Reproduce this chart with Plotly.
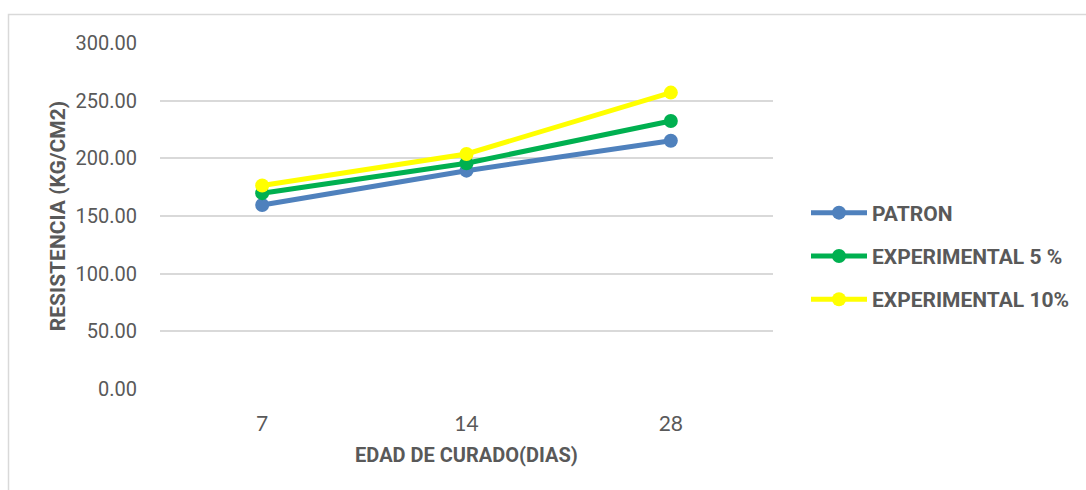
import plotly.graph_objects as go

categories = ["7", "14", "28"]
patron = [159.5, 189.3, 215.3]
exp5 = [169.8, 195.8, 232.4]
exp10 = [176.5, 203.8, 257.0]
series_names = ["PATRON", "EXPERIMENTAL 5 %", "EXPERIMENTAL 10%"]
y_ticks = [0, 50, 100, 150, 200, 250, 300]

colors = ["#4F81BD", "#00B050", "#FFFF00"]
narrow = "Roboto, Arial"

fig = go.Figure()
for i, (name, vals, c) in enumerate(zip(series_names, [patron, exp5, exp10], colors)):
    fig.add_trace(go.Scatter(
        x=categories, y=vals, name=name, mode="lines+markers",
        legendgroup="g%d" % i,
        line=dict(color=c, width=5), marker=dict(color=c, size=14),
    ))

W, H = 1086, 490
L, R, T, B = 160, 313, 43, 101
pw, ph = W - L - R, H - T - B

fig.update_layout(
    width=W, height=H,
    margin=dict(l=L, r=R, t=T, b=B, autoexpand=False),
    paper_bgcolor="white", plot_bgcolor="white",
    showlegend=True,
    legend=dict(
        x=(806 - L) / pw, y=1 - (256 - T) / ph, xanchor="left", yanchor="middle",
        font=dict(family=narrow, size=21, color="#595959", weight="bold"),
        tracegroupgap=13, itemwidth=56, bgcolor="rgba(0,0,0,0)",
    ),
    xaxis=dict(
        type="category", range=[-0.5, 2.5],
        showgrid=False, zeroline=False, showline=False, ticks="",
        ticklabelstandoff=20,
        tickfont=dict(family="Lato, Open Sans, Arial", size=21, color="#595959"),
        title=dict(text="EDAD DE CURADO(DIAS)", standoff=13,
                   font=dict(family=narrow, size=20, color="#595959", weight="bold")),
    ),
    yaxis=dict(
        range=[0, 300], tickvals=y_ticks, tickformat=".2f",
        showgrid=True, gridcolor="#D9D9D9", gridwidth=1.5,
        zeroline=False, showline=False, ticks="",
        ticklabelstandoff=22,
        tickfont=dict(family=narrow, size=20, color="#595959"),
        title=dict(text="RESISTENCIA (KG/CM2)", standoff=4,
                   font=dict(family=narrow, size=21, color="#595959", weight="bold")),
    ),
    shapes=[dict(
        type="rect", xref="paper", yref="paper",
        x0=(8.5 - L) / pw, x1=(1095 - L) / pw,
        y0=-(B + 20) / ph,
        y1=1 + (T - 14.5) / ph,
        line=dict(color="#D9D9D9", width=1.5), fillcolor="rgba(0,0,0,0)", layer="below",
    )],
)

fig.write_html("out.html")
